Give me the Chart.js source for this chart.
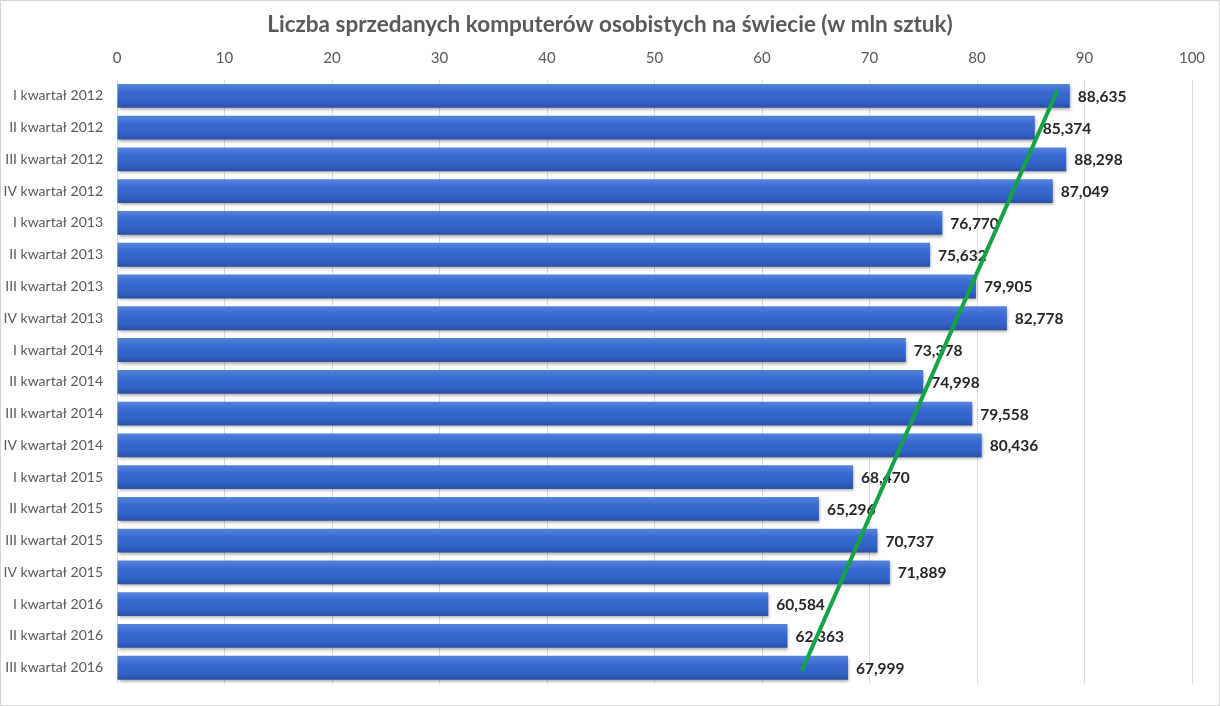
<!DOCTYPE html>
<html><head><meta charset="utf-8">
<script src="https://cdn.jsdelivr.net/npm/chart.js@4"></script>
<style>html,body{margin:0;padding:0;background:#fff}#wrap{width:1220px;height:706px}</style>
</head><body><div id="wrap"><canvas id="c" width="1220" height="706"></canvas></div>
<script>
const chartTitle = 'Liczba sprzedanych komputerów osobistych na świecie (w mln sztuk)';
const categories = ['I kwartał 2012','II kwartał 2012','III kwartał 2012','IV kwartał 2012',
  'I kwartał 2013','II kwartał 2013','III kwartał 2013','IV kwartał 2013',
  'I kwartał 2014','II kwartał 2014','III kwartał 2014','IV kwartał 2014',
  'I kwartał 2015','II kwartał 2015','III kwartał 2015','IV kwartał 2015',
  'I kwartał 2016','II kwartał 2016','III kwartał 2016'];
const sales = [88.635,85.374,88.298,87.049,76.770,75.632,79.905,82.778,73.378,74.998,79.558,80.436,68.470,65.296,70.737,71.889,60.584,62.363,67.999];
const xTicks = [0,10,20,30,40,50,60,70,80,90,100];
// trend line (hand-drawn green line): [value, category index]
const trendStart = [87.5, -0.19];
const trendEnd = [63.7, 18.1];

const FONT = 'Lato, "Open Sans", sans-serif';

const barGradient = (ctx) => {
  const chart = ctx.chart;
  const ys = chart.scales.y;
  if (!ys || ctx.dataIndex === undefined) return '#3565cc';
  const yc = ys.getPixelForValue(ctx.dataIndex);
  if (!isFinite(yc)) return '#3565cc';
  const h = 12;
  const g = chart.ctx.createLinearGradient(0, yc - h, 0, yc + h);
  g.addColorStop(0, '#5584dc');
  g.addColorStop(0.35, '#3a6ad2');
  g.addColorStop(0.75, '#3261c6');
  g.addColorStop(1, '#2a4fa6');
  return g;
};

const framePlugin = {
  id: 'frame',
  beforeDraw(chart) {
    const c = chart.ctx;
    c.save();
    c.fillStyle = '#fff';
    c.fillRect(0, 0, chart.width, chart.height);
    c.strokeStyle = '#d4d4d4';
    c.lineWidth = 1;
    c.strokeRect(0.5, 0.5, chart.width - 1, chart.height - 1);
    c.font = 'bold 22.5px ' + FONT;
    c.fillStyle = '#595959';
    c.textAlign = 'center';
    c.textBaseline = 'middle';
    c.fillText(chartTitle, chart.width / 2, 25);
    c.restore();
  },
  beforeDatasetDraw(chart) {
    const c = chart.ctx;
    c.save();
    c.shadowColor = 'rgba(0,0,0,0.35)';
    c.shadowOffsetX = 1;
    c.shadowOffsetY = 2;
    c.shadowBlur = 3;
  },
  afterDatasetDraw(chart) {
    chart.ctx.restore();
  },
  afterDatasetsDraw(chart) {
    const c = chart.ctx;
    const meta = chart.getDatasetMeta(0);
    c.save();
    c.font = 'bold 15.5px ' + FONT;
    c.fillStyle = '#262626';
    c.textBaseline = 'middle';
    c.textAlign = 'left';
    meta.data.forEach((bar, i) => {
      const txt = sales[i].toFixed(3).replace('.', ',');
      c.fillText(txt, bar.x + 8, bar.y + 1);
    });
    const xs = chart.scales.x, ys = chart.scales.y;
    const y0 = ys.getPixelForValue(0), y1 = ys.getPixelForValue(1);
    const x1p = xs.getPixelForValue(trendStart[0]);
    const y1p = y0 + (y1 - y0) * trendStart[1];
    const x2p = xs.getPixelForValue(trendEnd[0]);
    const y2p = y0 + (y1 - y0) * trendEnd[1];
    c.strokeStyle = '#15a347';
    c.lineWidth = 4;
    c.beginPath();
    c.moveTo(x1p, y1p);
    c.lineTo(x2p, y2p);
    c.stroke();
    c.restore();
  }
};

new Chart(document.getElementById('c'), {
  type: 'bar',
  data: {
    labels: categories,
    datasets: [{
      data: sales,
      backgroundColor: barGradient,
      borderWidth: 0,
      barPercentage: 0.75,
      categoryPercentage: 1
    }]
  },
  options: {
    indexAxis: 'y',
    responsive: false,
    animation: false,
    layout: { padding: { left: 0, right: 28, top: 38, bottom: 12 } },
    plugins: {
      legend: { display: false },
      tooltip: { enabled: false },
      title: { display: false }
    },
    scales: {
      x: {
        position: 'top',
        min: 0, max: 100,
        afterBuildTicks(scale) { scale.ticks = xTicks.map(v => ({ value: v })); },
        afterFit(scale) { scale.height = 42; },
        ticks: { color: '#595959', font: { family: FONT, size: 15 }, padding: 13 },
        grid: { color: '#d9d9d9', drawTicks: false },
        border: { display: false }
      },
      y: {
        afterFit(scale) { scale.width = 117; },
        ticks: { color: '#595959', font: { family: FONT, size: 14 }, padding: 14 },
        grid: { display: false, drawTicks: false },
        border: { display: false }
      }
    }
  },
  plugins: [framePlugin]
});
</script>
</body></html>
